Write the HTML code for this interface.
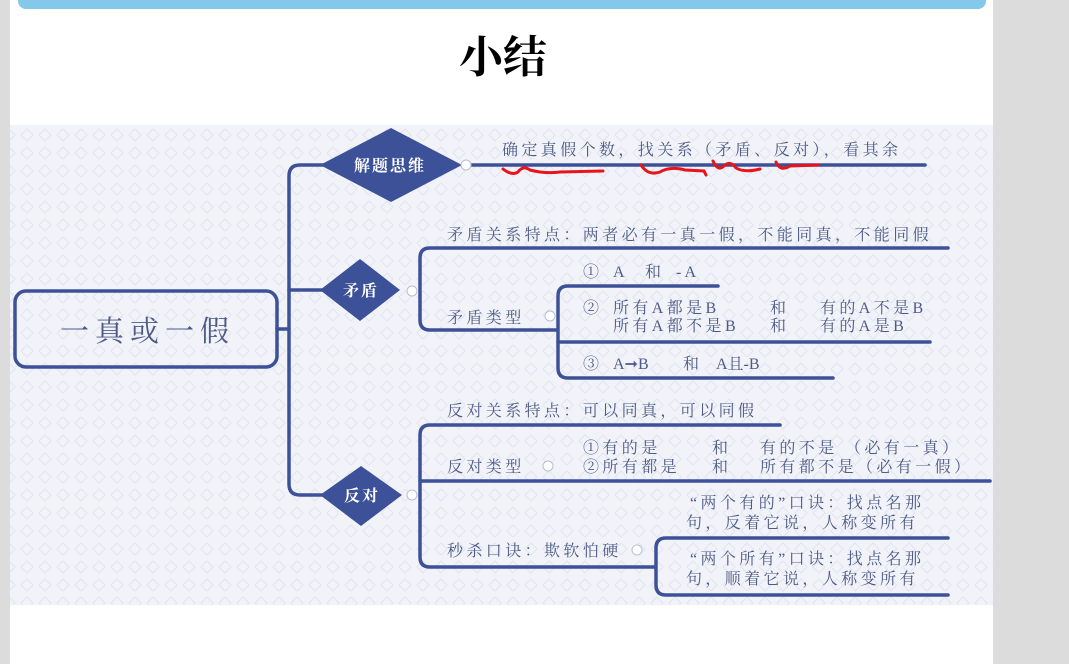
<!DOCTYPE html>
<html><head><meta charset="utf-8"><style>
html,body{margin:0;padding:0;width:1069px;height:664px;overflow:hidden;background:#dcdcdc;}
svg{display:block}
text{font-family:"Liberation Serif","Noto Serif CJK SC",serif;fill:#4d5a86;}
.s{letter-spacing:3.4px}
</style></head><body>
<svg width="1069" height="664" viewBox="0 0 1069 664" xmlns="http://www.w3.org/2000/svg">
<defs>
<pattern id="p" width="18" height="18" patternUnits="userSpaceOnUse">
<rect width="18" height="18" fill="#f1f3f8"/>
<path d="M9 3 L15 9 L9 15 L3 9Z" fill="none" stroke="#e2e6ef" stroke-width="1"/>
</pattern>
</defs>
<rect x="10" y="0" width="983" height="664" fill="#ffffff"/>
<rect x="18" y="-10" width="968" height="19" rx="8" fill="#84c8ec"/>
<text x="503" y="72" font-size="44" text-anchor="middle" font-weight="bold" style="fill:#000;font-family:'Liberation Serif','Noto Serif CJK SC',serif">小结</text>
<rect x="10" y="125" width="983" height="480" fill="url(#p)"/>
<g stroke="#3d5198" stroke-width="3.5" fill="none" stroke-linecap="round">
<rect x="15" y="291" width="262" height="76" rx="11"/>
<path d="M277 329 H289"/>
<path d="M330 165 H300 Q289 165 289 176 V484 Q289 495 300 495 H330"/>
<path d="M289 290 H330"/>
<path d="M462 165 H925"/>
<path d="M948 248 H430 Q420 248 420 258 V320 Q420 330 430 330 H556"/>
<path d="M718 286 H568 Q558 286 558 296 V368 Q558 378 568 378 H833"/>
<path d="M558 342 H930"/>
<path d="M780 425 H430 Q420 425 420 435 V557 Q420 567 430 567 H655"/>
<path d="M420 481 H990"/>
<path d="M948 538 H666 Q656 538 656 548 V585 Q656 595 666 595 H948"/>
</g>
<g fill="#3d5198">
<path d="M320 165 L391 128 L462 165 L391 202Z"/>
<path d="M320 290 L360 259 L400 290 L360 321Z"/>
<path d="M320 495 L361 466 L402 495 L361 526Z"/>
</g>
<g fill="#fff" stroke="#b8bfd3" stroke-width="1">
<circle cx="466" cy="165" r="5"/><circle cx="412" cy="291" r="5"/><circle cx="550" cy="316" r="5"/>
<circle cx="412" cy="495" r="5"/><circle cx="548" cy="466" r="5"/><circle cx="637" cy="550" r="5"/>
</g>
<text x="60" y="341" font-size="29" style="letter-spacing:6px">一真或一假</text>
<g style="font-weight:bold;letter-spacing:2px" font-size="16" text-anchor="middle">
<text x="390" y="171" style="fill:#fff">解题思维</text>
<text x="361" y="296" style="fill:#fff">矛盾</text>
<text x="362" y="501" style="fill:#fff">反对</text>
</g>
<g font-size="16">
<text class="s" x="502" y="155">确定真假个数，找关系（矛盾、反对），看其余</text>
<text class="s" x="447" y="240">矛盾关系特点：两者必有一真一假，不能同真，不能同假</text>
<text class="s" x="447" y="323">矛盾类型</text>
<text x="583" y="277">①</text><text x="613" y="277">A</text><text x="645" y="277">和</text><text x="676" y="277">- A</text>
<text x="583" y="313">②</text>
<text class="s" x="613" y="313">所有A都是B</text>
<text class="s" x="613" y="331">所有A都不是B</text>
<text x="770" y="313">和</text><text x="770" y="331">和</text>
<text class="s" x="820" y="313">有的A不是B</text><text class="s" x="820" y="331">有的A是B</text>
<text x="583" y="369">③</text><text x="613" y="369">A➞B</text><text x="683" y="369">和</text><text x="716" y="369">A且-B</text>
<text class="s" x="447" y="416">反对关系特点：可以同真，可以同假</text>
<text class="s" x="447" y="472">反对类型</text>
<text class="s" x="583" y="453">①有的是</text><text class="s" x="583" y="472">②所有都是</text>
<text x="712" y="453">和</text><text x="712" y="472">和</text>
<text class="s" x="760" y="453">有的不是 （必有一真）</text>
<text class="s" x="760" y="472">所有都不是（必有一假）</text>
<text class="s" x="690" y="508">“两个有的”口诀：找点名那</text>
<text class="s" x="686" y="528">句，反着它说，人称变所有</text>
<text class="s" x="447" y="556">秒杀口诀：欺软怕硬</text>
<text class="s" x="690" y="564">“两个所有”口诀：找点名那</text>
<text class="s" x="686" y="584">句，顺着它说，人称变所有</text>
</g>
<g stroke="#e8141b" stroke-width="3" fill="none" stroke-linecap="round">
<path d="M503 169 Q512 176 518 172 Q523 165 530 170 Q545 174 560 172 L603 171"/>
<path d="M641 165 Q648 176 660 172 Q670 166 685 170 L704 171 L706 175"/>
<path d="M713 161 Q718 172 724 166 Q730 160 736 168 Q745 173 760 169"/>
<path d="M776 162 Q780 172 790 166 L818 165"/>
</g>
</svg>
</body></html>
